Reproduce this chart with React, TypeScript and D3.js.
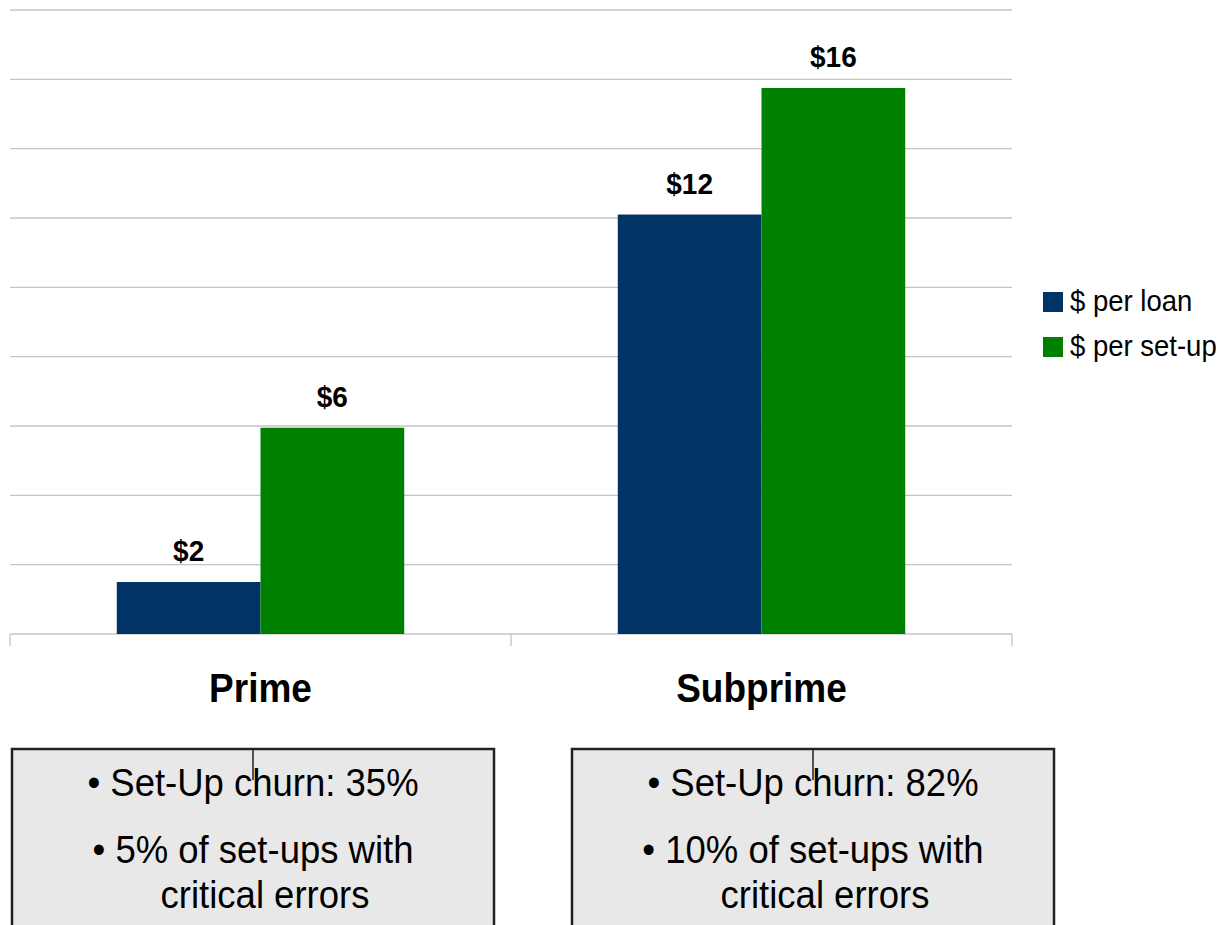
import React from "react";
import * as d3 from "d3";

// Cost per loan vs. cost per set-up, by borrower segment
const categories = ["Prime", "Subprime"];
const seriesNames = ["$ per loan", "$ per set-up"];
const perLoan = [1.5, 12.1];
const perSetUp = [5.95, 15.75];
const seriesColors = ["#003366", "#008000"];
const yTicks = [0, 2, 4, 6, 8, 10, 12, 14, 16, 18];

// Notes shown under each segment
const churnNotes = ["Set-Up churn: 35%", "Set-Up churn: 82%"];
const errorNotes = ["5% of set-ups with", "10% of set-ups with"];
const errorNotesTail = ["critical errors", "critical errors"];

const W = 1224;
const H = 925;
const plot = { left: 10, right: 1012, top: 10, bottom: 634 };
const FONT = "'Liberation Sans', Arial, Helvetica, sans-serif";

// Text drawn slightly taller than wide, anchored at its baseline
function Label(props: {
  x: number;
  y: number;
  size: number;
  bold?: boolean;
  anchor?: "start" | "middle" | "end";
  children: React.ReactNode;
}) {
  return (
    <g transform={`translate(${props.x},${props.y}) scale(1,1.08)`}>
      <text
        textAnchor={props.anchor ?? "middle"}
        fontSize={props.size}
        fontWeight={props.bold ? "bold" : "normal"}
        fill="#000"
      >
        {props.children}
      </text>
    </g>
  );
}

export default function App() {
  const y = d3.scaleLinear().domain([0, 18]).range([plot.bottom, plot.top]);
  const x0 = d3.scaleBand<string>().domain(categories).range([plot.left, plot.right]);
  const x1 = d3
    .scaleBand<string>()
    .domain(seriesNames)
    .range([0, x0.bandwidth()])
    .paddingInner(0)
    .paddingOuter(0.743);
  const values = [perLoan, perSetUp];
  const fmt = (v: number) => "$" + d3.format(".0f")(v);

  const boxes = [
    { x: 12, w: 482 },
    { x: 572, w: 482 },
  ];

  return (
    <svg
      width={W}
      height={H}
      style={{ position: "absolute", left: 0, top: 0, background: "#fff" }}
      fontFamily={FONT}
    >
      {/* horizontal grid */}
      {yTicks.map((t) => (
        <line
          key={t}
          x1={plot.left}
          x2={plot.right}
          y1={y(t)}
          y2={y(t)}
          stroke="#c4c4c4"
          strokeWidth={1.3}
        />
      ))}
      {/* category separators below the axis */}
      {[plot.left, x0("Subprime")!, plot.right].map((xv, i) => (
        <line key={i} x1={xv} x2={xv} y1={plot.bottom} y2={plot.bottom + 12} stroke="#c4c4c4" strokeWidth={1.3} />
      ))}

      {/* bars and value labels */}
      {categories.map((c, ci) =>
        seriesNames.map((s, si) => {
          const v = values[si][ci];
          const bx = x0(c)! + x1(s)!;
          return (
            <g key={c + s}>
              <rect
                x={bx}
                y={y(v)}
                width={x1.bandwidth()}
                height={plot.bottom - y(v)}
                fill={seriesColors[si]}
              />
              <Label x={bx + x1.bandwidth() / 2} y={y(v) - 21} size={28} bold>
                {fmt(v)}
              </Label>
            </g>
          );
        })
      )}

      {/* category labels */}
      {categories.map((c) => (
        <Label key={c} x={x0(c)! + x0.bandwidth() / 2} y={702} size={37} bold>
          {c}
        </Label>
      ))}

      {/* legend */}
      {seriesNames.map((s, i) => (
        <g key={s}>
          <rect x={1043} y={292 + i * 45} width={20} height={20} fill={seriesColors[i]} />
          <Label x={1070} y={311 + i * 45} size={27.5} anchor="start">
            {s}
          </Label>
        </g>
      ))}

      {/* note boxes */}
      {boxes.map((b, i) => {
        const cx = b.x + b.w / 2;
        return (
          <g key={i}>
            <rect x={b.x} y={749} width={b.w} height={200} fill="#e8e8e8" stroke="#222" strokeWidth={2.5} />
            <Label x={cx} y={796} size={36.5}>
              {"\u2022 " + churnNotes[i]}
            </Label>
            <line x1={cx} x2={cx} y1={749} y2={780} stroke="#222" strokeWidth={1.5} />
            <Label x={cx} y={863} size={36.5}>
              {"\u2022 " + errorNotes[i]}
            </Label>
            <Label x={cx + 12} y={908} size={36.5}>
              {errorNotesTail[i]}
            </Label>
          </g>
        );
      })}
    </svg>
  );
}
